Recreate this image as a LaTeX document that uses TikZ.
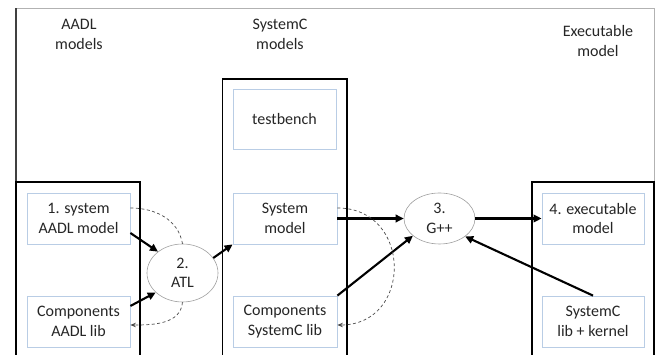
\documentclass[tikz,border=0pt]{standalone}
\usepackage{fontspec}
\setmainfont{Carlito}
\usetikzlibrary{arrows.meta,shapes.geometric,calc}
\definecolor{boxblue}{RGB}{185,205,229}
\definecolor{ellgray}{RGB}{160,160,160}
\definecolor{txt}{RGB}{38,38,38}
\begin{document}
\begin{tikzpicture}[x=1pt,y=1pt,
  every node/.style={font=\fontsize{16}{19.5}\selectfont, text=txt, align=center},
  inbox/.style={draw=boxblue, line width=0.8pt, minimum width=103pt, minimum height=51pt, inner sep=0pt},
  ell/.style={ellipse, draw=ellgray, line width=0.6pt, minimum width=71pt, minimum height=51pt, inner sep=-4pt},
  group/.style={draw=black, line width=1.8pt},
  outerframe/.style={draw=gray!60, line width=1pt},
  bigarrow/.style={draw=black, line width=2.1pt, -{Triangle[length=8pt,width=7.5pt]}},
  dashlink/.style={draw=black!70, line width=0.7pt, dash pattern=on 3pt off 2.5pt},
  smalltip/.style={-{Stealth[length=5.5pt,width=4.5pt]}},
]
\useasboundingbox (0,0) rectangle (657,355);
\clip (0,0) rectangle (657,355);
\fill[white] (0,0) rectangle (657,355);
% outer frame and group boxes
\draw[outerframe] (16,346) -- (654,346) -- (654,-10);
\draw[draw=black!75, line width=1.3pt] (16,-10) -- (16,346.5);
\draw[group] (16,-10) -- (16,173) -- (140,173) -- (140,-10);
\draw[group] (222.5,-10) -- (222.5,276) -- (347,276) -- (347,-10);
\draw[group] (532,-10) -- (532,173) -- (654,173) -- (654,-10);
% headers
\node (haadl) at (79,320.5) {AADL\\models};
\node (hsc) at (280,320.5) {SystemC\\models};
\node (hexe) at (598,314) {Executable\\model};
% boxes
\node[inbox] (sysaadl) at (78.5,136.5) {1. system\\AADL model};
\node[inbox] (compaadl) at (78.5,33.5) {Components\\AADL lib};
\node[inbox, minimum height=60pt] (testbench) at (284.5,236) {testbench};
\node[inbox, minimum width=104pt] (sysmodel) at (285,136.5) {System\\model};
\node[inbox, minimum width=104pt] (compsc) at (285,33.5) {Components\\SystemC lib};
\node[inbox, minimum width=102pt] (exec) at (593,136.5) {4. executable\\model};
\node[inbox, minimum width=102pt] (sclib) at (593,33.5) {SystemC\\lib + kernel};
% ellipses
\node[ell, minimum height=58pt] (atl) at (182.5,82) {2.\\ATL};
\node[ell] (gpp) at (439.5,136.5) {3.\\G++};
% solid arrows
\draw[bigarrow] ($(sysaadl.east)+(0,-14.5)$) -- (atl.139);
\draw[bigarrow] ($(compaadl.east)+(0,15.5)$) -- (atl.216);
\draw[bigarrow] (atl.26) -- (sysmodel.south west);
\draw[bigarrow] (sysmodel.east) -- (gpp.west);
\draw[bigarrow] (compsc.north east) -- (gpp.213);
\draw[bigarrow] (gpp.east) -- (exec.west);
\draw[bigarrow] (sclib.north) -- (gpp.-35);
% dashed links
\draw[dashlink] ($(sysaadl.east)+(0,10.5)$) to[out=0,in=100] (atl.north);
\draw[dashlink, smalltip] (atl.south) to[out=-95,in=0] ($(compaadl.east)+(0,-3.5)$);
\draw[dashlink, smalltip] ($(sysmodel.east)+(0,10.5)$) to[out=0,in=0,looseness=1.65] ($(compsc.east)+(0,-3.5)$);
\end{tikzpicture}
\end{document}
